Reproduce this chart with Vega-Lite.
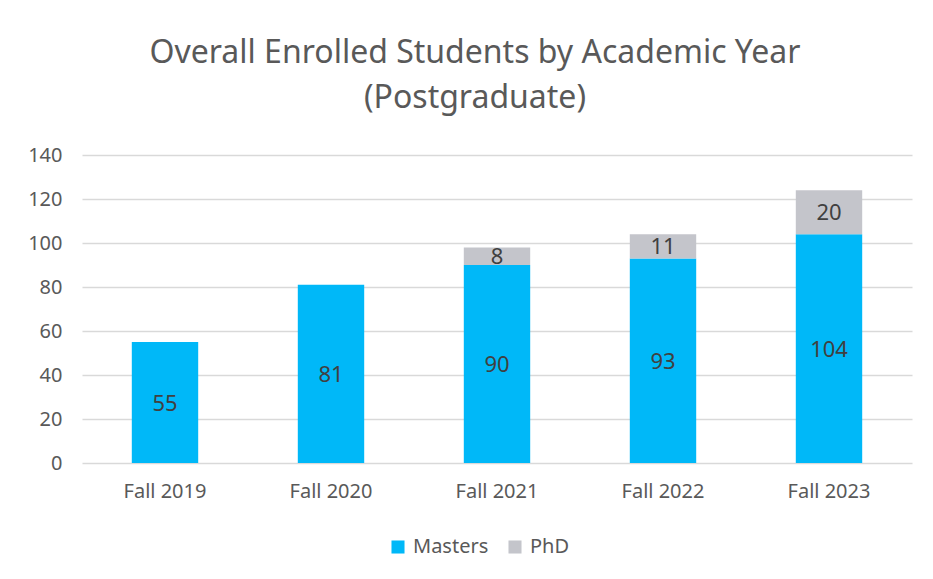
{
  "$schema": "https://vega.github.io/schema/vega-lite/v6.json",
  "width": 830,
  "height": 308,
  "autosize": "none",
  "padding": {"left": 82, "top": 155, "right": 21, "bottom": 116},
  "background": "white",
  "title": {
    "text": ["Overall Enrolled Students by Academic Year", "(Postgraduate)"],
    "font": "Noto Sans",
    "fontSize": 32,
    "fontWeight": "normal",
    "color": "#595959",
    "lineHeight": 45,
    "anchor": "middle",
    "dx": -22,
    "offset": 30
  },
  "data": {
    "values": [
      {"year": "Fall 2019", "type": "Masters", "count": 55},
      {"year": "Fall 2020", "type": "Masters", "count": 81},
      {"year": "Fall 2021", "type": "Masters", "count": 90},
      {"year": "Fall 2021", "type": "PhD", "count": 8},
      {"year": "Fall 2022", "type": "Masters", "count": 93},
      {"year": "Fall 2022", "type": "PhD", "count": 11},
      {"year": "Fall 2023", "type": "Masters", "count": 104},
      {"year": "Fall 2023", "type": "PhD", "count": 20}
    ]
  },
  "transform": [
    {"stack": "count", "groupby": ["year"], "sort": [{"field": "type", "order": "ascending"}], "as": ["y0", "y1"]},
    {"calculate": "(datum.y0 + datum.y1) / 2", "as": "ymid"}
  ],
  "encoding": {
    "x": {
      "field": "year",
      "type": "nominal",
      "title": null,
      "scale": {"paddingInner": 0.6, "paddingOuter": 0.3},
      "axis": {
        "labelAngle": 0,
        "labelFont": "Noto Sans",
        "labelFontSize": 20,
        "labelColor": "#595959",
        "labelPadding": 18,
        "domain": false,
        "ticks": false
      }
    }
  },
  "layer": [
    {
      "mark": {"type": "bar"},
      "encoding": {
        "y": {
          "field": "y1",
          "type": "quantitative",
          "title": null,
          "scale": {"domain": [0, 140]},
          "axis": {
            "values": [0, 20, 40, 60, 80, 100, 120, 140],
            "labelFont": "Noto Sans",
            "labelFontSize": 20,
            "labelColor": "#595959",
            "labelPadding": 20,
            "domain": false,
            "ticks": false,
            "grid": true,
            "gridColor": "#d9d9d9",
            "gridWidth": 1.3
          }
        },
        "y2": {"field": "y0"},
        "color": {
          "field": "type",
          "type": "nominal",
          "scale": {"domain": ["Masters", "PhD"], "range": ["#00B8F8", "#C4C5CB"]},
          "legend": {
            "title": null,
            "orient": "none",
            "legendX": 306,
            "legendY": 382,
            "direction": "horizontal",
            "symbolType": "square",
            "symbolSize": 170,
            "symbolStrokeWidth": 0,
            "labelFont": "Noto Sans",
            "labelFontSize": 20,
            "labelColor": "#595959",
            "columnPadding": 16,
            "labelOffset": 5
          }
        }
      }
    },
    {
      "mark": {"type": "text", "font": "Noto Sans", "fontSize": 22, "color": "#404040", "baseline": "middle", "dy": 1},
      "encoding": {
        "y": {"field": "ymid", "type": "quantitative"},
        "text": {"field": "count", "type": "quantitative"}
      }
    }
  ],
  "config": {
    "view": {"stroke": null}
  }
}
